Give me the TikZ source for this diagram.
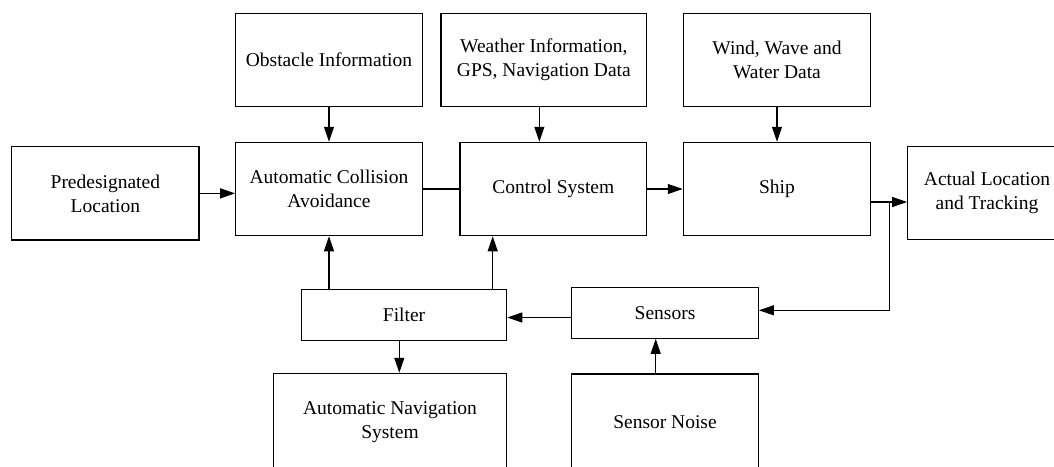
\documentclass[tikz,border=0pt]{standalone}
\usepackage{fontspec}
\setmainfont{Liberation Serif}
\usetikzlibrary{arrows.meta,calc}

\tikzset{
  blk/.style={draw=black, line width=1.1pt, inner sep=0pt, align=center,
    font=\fontsize{19.5}{24}\selectfont},
  arr/.style={line width=1.1pt, -{Triangle[length=15pt,width=10pt]}},
  ln/.style={line width=1.1pt}
}

\begin{document}
\begin{tikzpicture}[x=1pt,y=1pt]
  \useasboundingbox (0,0) rectangle (1054,-466);
  \clip (0,0) rectangle (1054,-466);

  % input boxes on top
  \node[blk, minimum width=186.6pt, minimum height=93.4pt] (obs)  at (329,-60)    {Obstacle Information};
  \node[blk, minimum width=205.7pt, minimum height=93.4pt] (wea)  at (543.85,-60) {Weather Information,\\GPS, Navigation Data};
  \node[blk, minimum width=187.4pt, minimum height=93.4pt] (wind) at (777,-60)    {Wind, Wave and\\Water Data};

  % main chain
  \node[blk, minimum width=187.3pt, minimum height=93.3pt] (pre)  at (105.35,-193.35) {Predesignated\\Location};
  \node[blk, minimum width=186.6pt, minimum height=93.4pt] (aca)  at (329,-189)    {Automatic Collision\\Avoidance};
  \node[blk, minimum width=186.7pt, minimum height=93.4pt] (ctrl) at (553.35,-189) {Control System};
  \node[blk, minimum width=187.4pt, minimum height=93.4pt] (ship) at (777,-189)    {Ship};
  \node[blk, minimum width=158.6pt, minimum height=92.6pt] (act)  at (987,-193)    {Actual Location\\and Tracking};

  % feedback row
  \node[blk, minimum width=205.2pt, minimum height=51.2pt] (filt) at (404.1,-315.1) {Filter};
  \node[blk, minimum width=186.6pt, minimum height=51pt]   (sens) at (665,-312.8)   {Sensors};

  % bottom boxes
  \node[blk, minimum width=233.4pt, minimum height=96.8pt] (anav)  at (390,-421.7) {Automatic Navigation\\System};
  \node[blk, minimum width=186.6pt, minimum height=95.4pt] (noise) at (665,-421.7) {Sensor Noise};

  % top inputs
  \draw[arr] (obs) -- (aca);
  \draw[arr] ([xshift=-4.5pt]wea.south) -- ([xshift=-4.5pt]wea.south |- ctrl.north);
  \draw[arr] (wind) -- (ship);

  % forward chain
  \draw[arr] (pre.east) -- (pre.east -| aca.west);
  \draw[ln]  (aca.east |- ctrl.west) -- (ctrl.west);
  \draw[arr] (ctrl.east) -- (ctrl.east -| ship.west);

  % ship output and feedback branch
  \coordinate (so) at ([yshift=-13pt]ship.east);
  \coordinate (br) at ($(so)!0.5!(so -| act.west)$);
  \draw[arr] (so) -- (so -| act.west);
  \draw[arr] (br) |- ([yshift=2.5pt]sens.east);

  % sensors to filter
  \draw[arr] ([yshift=-4.7pt]sens.west) -- ([yshift=-4.7pt]sens.west -| filt.east);
  \draw[arr] ([xshift=-9.3pt]noise.north) -- ([xshift=-9.3pt]noise.north |- sens.south);

  % filter outputs
  \draw[arr] (aca.south |- filt.north) -- (aca.south);
  \draw[arr] ([xshift=-60.65pt]ctrl.south |- filt.north) -- ([xshift=-60.65pt]ctrl.south);
  \draw[arr] ([xshift=9.3pt]anav.north |- filt.south) -- ([xshift=9.3pt]anav.north);
\end{tikzpicture}
\end{document}
